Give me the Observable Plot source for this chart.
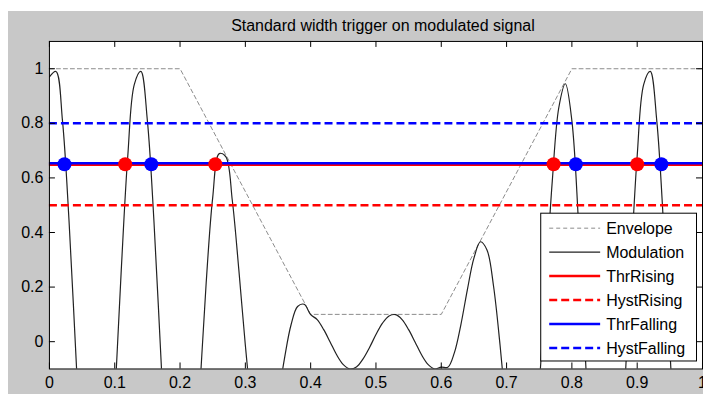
<!DOCTYPE html>
<html><head><meta charset="utf-8">
<script src="https://cdn.jsdelivr.net/npm/d3@7"></script>
<script src="https://cdn.jsdelivr.net/npm/@observablehq/plot@0.6"></script>
<style>
html,body{margin:0;padding:0;background:#fff;overflow:hidden;width:703px;height:394px;}
#fig{position:absolute;left:8px;top:11px;width:695px;height:383px;background:#c8c8c8;}
#chart{position:absolute;left:0;top:0;}
</style></head><body>
<div id="fig"></div><div id="chart"></div>
<script>
const title = "Standard width trigger on modulated signal";
const xTicks = [0,0.1,0.2,0.3,0.4,0.5,0.6,0.7,0.8,0.9,1];
const xTickLabels = ["0","0.1","0.2","0.3","0.4","0.5","0.6","0.7","0.8","0.9","1"];
const yTicks = [0,0.2,0.4,0.6,0.8,1];
const yTickLabels = ["0","0.2","0.4","0.6","0.8","1"];

const envelopeX = [0,0.2,0.4,0.6,0.8,1];
const envelopeY = [1,1,0.1,0.1,1,1];

const modulationX = [
0,0.01,0.02,0.03,0.04,0.05,0.06,0.07,0.08,0.09,
0.10,0.11,0.12,0.13,0.14,0.15,0.16,0.17,0.18,0.19,
0.20,0.21,0.22,0.23,0.24,0.25,0.26,0.27,0.28,0.29,
0.30,0.31,0.32,0.33,0.34,0.35,0.36,0.37,0.38,0.39,
0.40,0.41,0.42,0.43,0.44,0.45,0.46,0.47,0.48,0.49,
0.50,0.51,0.52,0.53,0.54,0.55,0.56,0.57,0.58,0.59,
0.60,0.61,0.62,0.63,0.64,0.65,0.66,0.67,0.68,0.69,
0.70,0.71,0.72,0.73,0.74,0.75,0.76,0.77,0.78,0.79,
0.80,0.81,0.82,0.83,0.84,0.85,0.86,0.87,0.88,0.89,
0.90,0.91,0.92,0.93,0.94,0.95,0.96,0.97,0.98,0.99,
1.00];
const modulationY = [
0.970,0.990,0.809,0.443,-0.024,-0.486,-0.837,-0.995,-0.926,-0.645,
-0.216,0.263,0.681,0.943,0.990,0.809,0.443,-0.024,-0.486,-0.837,
-0.995,-0.884,-0.587,-0.187,0.215,0.528,0.689,0.678,0.518,0.264,
-0.013,-0.245,-0.385,-0.413,-0.343,-0.210,-0.060,0.062,0.129,0.137,
0.099,0.081,0.044,-0.002,-0.049,-0.084,-0.100,-0.093,-0.064,-0.022,
0.026,0.068,0.094,0.099,0.081,0.044,-0.002,-0.049,-0.084,-0.100,
-0.093,-0.094,-0.041,0.062,0.191,0.306,0.366,0.336,0.204,-0.012,
-0.267,-0.498,-0.637,-0.634,-0.471,-0.167,0.216,0.589,0.858,0.945,
0.809,0.443,-0.024,-0.486,-0.837,-0.995,-0.926,-0.645,-0.216,0.263,
0.681,0.943,0.990,0.809,0.443,-0.024,-0.486,-0.837,-0.995,-0.926,
-0.645];

const thrRising = 0.65;
const hystRising = 0.5;
const thrFalling = 0.65;
const hystFalling = 0.8;
const risingX = [0.116,0.254,0.772,0.900];
const fallingX = [0.023,0.156,0.806,0.937];

const legendLabels = ["Envelope","Modulation","ThrRising","HystRising","ThrFalling","HystFalling"];
const legendStyles = [
  {stroke:"#8c8c8c", width:1, dash:"4,3"},
  {stroke:"#222", width:1.2, dash:null},
  {stroke:"#ff0000", width:2.5, dash:null},
  {stroke:"#ff0000", width:2.5, dash:"8,4"},
  {stroke:"#0000ff", width:2.5, dash:null},
  {stroke:"#0000ff", width:2.5, dash:"8,4"}
];

const envelope = envelopeX.map((x,i)=>({x, y: envelopeY[i]}));
const modulation = modulationX.map((x,i)=>({x, y: modulationY[i]}));

const W = 704, H = 394, ML = 49, MR = 1, MT = 41, MB = 25;
const FW = W - ML - MR, FH = H - MT - MB;
const TL = 6;
const FONT = "'Liberation Sans', Arial, sans-serif";

const plot = Plot.plot({
  width: W, height: H,
  marginLeft: ML, marginRight: MR, marginTop: MT, marginBottom: MB,
  x: {domain: [0,1]},
  y: {domain: [-0.1,1.1]},
  style: {background: "transparent", fontFamily: FONT, fontSize: "16px", color: "black", overflow: "visible"},
  marks: [
    Plot.frame({fill: "white"}),
    Plot.line(envelope, {x: "x", y: "y", stroke: "#8c8c8c", strokeWidth: 1, strokeDasharray: "4,3", clip: true}),
    Plot.line(modulation, {x: "x", y: "y", curve: "catmull-rom", stroke: "#222", strokeWidth: 1.2, clip: true}),
    Plot.ruleY([thrRising], {stroke: "#ff0000", strokeWidth: 2.5, dy: 0.5}),
    Plot.ruleY([hystRising], {stroke: "#ff0000", strokeWidth: 2.5, strokeDasharray: "8,4"}),
    Plot.ruleY([thrFalling], {stroke: "#0000ff", strokeWidth: 2.5, dy: -1}),
    Plot.ruleY([hystFalling], {stroke: "#0000ff", strokeWidth: 2.5, strokeDasharray: "8,4"}),
    Plot.dot(risingX, {x: d => d, y: () => thrRising, r: 7, fill: "#ff0000"}),
    Plot.dot(fallingX, {x: d => d, y: () => thrFalling, r: 7, fill: "#0000ff"}),
    Plot.tickX(xTicks, {x: d => d, insetTop: FH - TL, stroke: "black"}),
    Plot.tickX(xTicks, {x: d => d, insetBottom: FH - TL, stroke: "black"}),
    Plot.tickY(yTicks, {y: d => d, insetRight: FW - TL, stroke: "black"}),
    Plot.tickY(yTicks, {y: d => d, insetLeft: FW - TL, stroke: "black"}),
    Plot.axisX(xTicks, {tickSize: 0, tickPadding: 8, tickFormat: d => xTickLabels[xTicks.indexOf(d)], label: null, fill: "black"}),
    Plot.axisY(yTicks, {tickSize: 0, tickPadding: 6, tickFormat: d => yTickLabels[yTicks.indexOf(d)], label: null, fill: "black"}),
    Plot.frame({stroke: "black"})
  ]
});
document.getElementById("chart").appendChild(plot);

const svg = d3.select(plot);
svg.append("text")
  .attr("x", 383.5).attr("y", 31.5)
  .attr("text-anchor", "middle")
  .attr("fill", "black")
  .style("font-family", FONT)
  .style("font-size", "16px")
  .text(title);

const lg = svg.append("g");
lg.append("rect").attr("x", 541.5).attr("y", 213.5).attr("width", 156).attr("height", 148)
  .attr("fill", "white").attr("stroke", "black").attr("stroke-width", 1);
legendLabels.forEach((lab, i) => {
  const cy = 228.5 + 24 * i;
  const s = legendStyles[i];
  lg.append("line").attr("x1", 550).attr("x2", 601).attr("y1", cy).attr("y2", cy)
    .attr("stroke", s.stroke).attr("stroke-width", s.width)
    .attr("stroke-dasharray", s.dash);
  lg.append("text").attr("x", 607).attr("y", cy + 5.7)
    .attr("text-anchor", "start")
    .attr("fill", "black")
    .style("font-family", FONT)
    .style("font-size", "16px")
    .text(lab);
});
</script>
</body></html>
